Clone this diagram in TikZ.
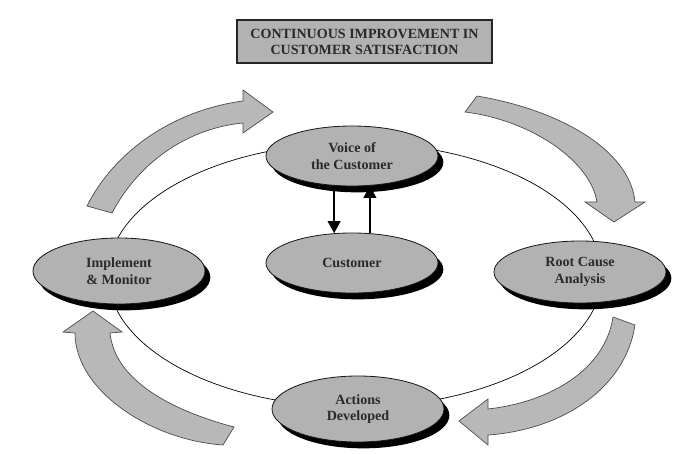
\documentclass[tikz,border=0pt]{standalone}
\usepackage{fontspec}
\setmainfont{Liberation Serif}
\usetikzlibrary{shapes.geometric,shadows,arrows.meta}
\definecolor{nodegray}{HTML}{B2B2B2}
\definecolor{arrowgray}{HTML}{B8B8B8}
\definecolor{inkgray}{HTML}{2A2A2A}
\begin{document}
\begin{tikzpicture}[x=0.03cm,y=-0.03cm,
	stage/.style={ellipse,draw=black!90,line width=0.7pt,fill=nodegray,
		minimum width=5.16cm,inner sep=0pt,align=center,
		font=\bfseries\fontsize{12}{14}\selectfont,text=inkgray,
		drop shadow={shadow xshift=1.6mm,shadow yshift=-1.9mm,fill=black,opacity=1}},
	headbox/.style={rectangle,draw=black!85,line width=1.2pt,fill=nodegray,
		minimum width=7.65cm,minimum height=1.29cm,inner sep=0pt,align=center,
		font=\bfseries\fontsize{12}{13.6}\selectfont,text=inkgray},
	bigarrow/.style={fill=arrowgray,draw=black!70,line width=0.6pt},
	link/.style={line width=1.3pt,-{Triangle[length=3.6mm,width=3.8mm]}}]
\useasboundingbox (0,0) rectangle (683,454);
\node[headbox] (title) at (364.5,41.5) {CONTINUOUS IMPROVEMENT IN\\CUSTOMER SATISFACTION};
% loop round the stages
\draw[line width=0.6pt] (355,275) ellipse [x radius=7.41cm,y radius=3.96cm];
% block arrows
\draw[bigarrow] (87,206) .. controls (115,150) and (175,110) .. (243,101) -- (243,90) -- (273,112)
	-- (243,133) -- (243,123) .. controls (190,128) and (140,160) .. (112,213) -- cycle;
\draw[bigarrow] (465,112) -- (477,96) .. controls (560,110) and (630,150) .. (635,202) -- (645,202)
	-- (614,222) -- (585,202) -- (597,202) .. controls (590,160) and (530,120) .. (465,112) -- cycle;
\draw[bigarrow] (613,317) -- (635,325) .. controls (625,390) and (560,430) .. (488,435) -- (488,445)
	-- (459,421) -- (488,399) -- (488,409) .. controls (550,402) and (605,370) .. (613,317) -- cycle;
\draw[bigarrow] (223,445) -- (234,427) .. controls (170,410) and (115,380) .. (110,333) -- (122,332)
	-- (93,311) -- (63,332) -- (75,333) .. controls (75,390) and (150,440) .. (223,445) -- cycle;
% stages
\node[stage,minimum height=1.8cm] (voice) at (352,156) {Voice of\\the Customer};
\node[stage,minimum height=1.8cm] (customer) at (352,263) {Customer};
\node[stage,minimum height=1.98cm] (implement) at (119,271) {Implement\\\& Monitor};
\node[stage,minimum height=1.86cm] (root) at (580,272) {Root Cause\\Analysis};
\node[stage,minimum height=1.98cm] (actions) at (358,409) {Actions\\Developed};
\draw[link] (voice.-121) -- (customer.121);
\draw[link] (customer.59) -- (voice.-59);
\end{tikzpicture}
\end{document}
